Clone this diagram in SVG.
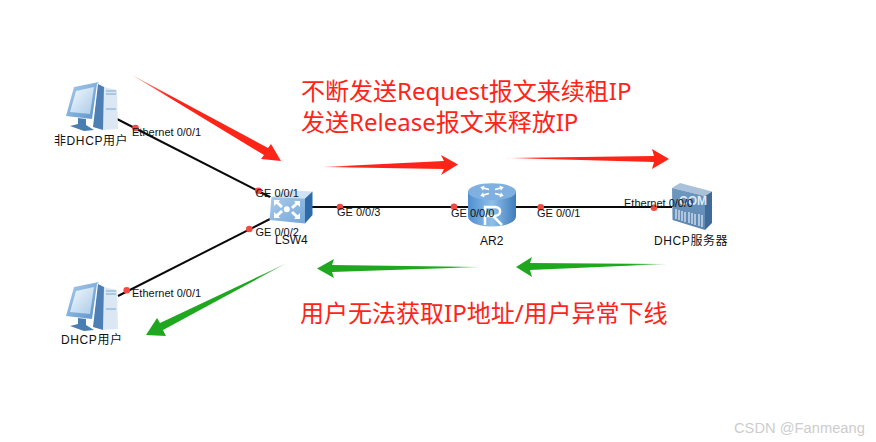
<svg xmlns="http://www.w3.org/2000/svg" xmlns:xlink="http://www.w3.org/1999/xlink" width="876" height="442" viewBox="0 0 876 442">
<style>
.lbl{font:11px "Liberation Sans","Noto Sans CJK SC",sans-serif;fill:#111}
.nm{font:12px "Liberation Sans","Noto Sans CJK SC",sans-serif;fill:#111}
.cj{letter-spacing:.6px}
.big{font:24px "Noto Sans","Noto Sans CJK SC",sans-serif;fill:#ff2418}
.link{stroke:#0a0a0a;stroke-width:2;fill:none}
.dot{fill:#f24a42}
</style>
<defs>
<linearGradient id="rd1" gradientUnits="userSpaceOnUse" x1="132" y1="75" x2="170" y2="97"><stop offset="0" stop-color="#ff2418" stop-opacity=".45"/><stop offset="1" stop-color="#ff2418"/></linearGradient>
<linearGradient id="rd2" gradientUnits="userSpaceOnUse" x1="322" y1="0" x2="350" y2="0"><stop offset="0" stop-color="#ff2418" stop-opacity=".45"/><stop offset="1" stop-color="#ff2418"/></linearGradient>
<linearGradient id="rd3" gradientUnits="userSpaceOnUse" x1="505" y1="0" x2="533" y2="0"><stop offset="0" stop-color="#ff2418" stop-opacity=".45"/><stop offset="1" stop-color="#ff2418"/></linearGradient>
<linearGradient id="gr1" gradientUnits="userSpaceOnUse" x1="667" y1="0" x2="630" y2="0"><stop offset="0" stop-color="#1fa81f" stop-opacity=".45"/><stop offset="1" stop-color="#1fa81f"/></linearGradient>
<linearGradient id="gr2" gradientUnits="userSpaceOnUse" x1="481" y1="0" x2="450" y2="0"><stop offset="0" stop-color="#1fa81f" stop-opacity=".45"/><stop offset="1" stop-color="#1fa81f"/></linearGradient>
<linearGradient id="gr3" gradientUnits="userSpaceOnUse" x1="287" y1="263" x2="255" y2="279"><stop offset="0" stop-color="#1fa81f" stop-opacity=".45"/><stop offset="1" stop-color="#1fa81f"/></linearGradient>
<linearGradient id="scr" x1="0" y1="0" x2="1" y2="1"><stop offset="0" stop-color="#f4f9fd"/><stop offset="1" stop-color="#a9cbe8"/></linearGradient>
<linearGradient id="mon" x1="0" y1="0" x2="1" y2="1"><stop offset="0" stop-color="#a9cdee"/><stop offset="1" stop-color="#5c93c9"/></linearGradient>
<linearGradient id="sw" x1="0" y1="0" x2="1" y2="1"><stop offset="0" stop-color="#a8cbec"/><stop offset="1" stop-color="#76a7d8"/></linearGradient>
<linearGradient id="cyl" x1="0" y1="0" x2="1" y2="0"><stop offset="0" stop-color="#4f8fd0"/><stop offset=".5" stop-color="#8fbfe8"/><stop offset="1" stop-color="#3f7cbc"/></linearGradient>
<linearGradient id="srv" x1="0" y1="0" x2="0" y2="1"><stop offset="0" stop-color="#6f98c0"/><stop offset="1" stop-color="#5c86b0"/></linearGradient>
<g id="pc">
<path d="M104 87 L117 90 L118 129 L103 130 Z" fill="#dbe8f4"/>
<path d="M106 91 H116 M106 94 H116 M106 109 H116" stroke="#7fa6cc" stroke-width="1.200" fill="none"/>
<path d="M98 84 L104 87 L103 130 L93 127 Z" fill="#4d7fb4"/>
<path d="M74 87 L99 82 L97 84 L92 119 L66 116 Z" fill="url(#mon)"/>
<path d="M76 91 L94 87 L90 114 L70 112 Z" fill="url(#scr)"/>
<path d="M78 118 L86 119 L86 125 L94 130 L84 131 L70 126 L78 124 Z" fill="#4a7db2"/>
</g>
<path id="chev" d="M0 0 L6 0 L4.500 1.800 L9 6 L7 8 L2.300 3.800 L0 6 Z" fill="#fff"/>
<path id="rarr" d="M0 -1 H6 V-3 L10 0 L6 3 V1 H0 Z" fill="#fff"/>
</defs>
<rect width="876" height="442" fill="#fff"/>
<g id="connectors">
<path class="link" d="M117 119 L270 197"/>
<path class="link" d="M118 296 L270 219"/>
<path class="link" d="M312 207 H468 M516 207 H672"/>
<circle class="dot" cx="135.500" cy="128" r="3.300"/>
<circle class="dot" cx="258.300" cy="190.700" r="3.300"/>
<circle class="dot" cx="249.300" cy="229" r="3.300"/>
<circle class="dot" cx="126.700" cy="290.300" r="3.300"/>
<circle class="dot" cx="340" cy="207" r="3.300"/>
<circle class="dot" cx="454" cy="206.700" r="3.300"/>
<circle class="dot" cx="540.700" cy="207.300" r="3.300"/>
<circle class="dot" cx="654" cy="207.700" r="3.300"/>
</g>
<g id="node-pc1"><use xlink:href="#pc" href="#pc"/><text class="nm cj" x="54" y="145">非DHCP用户</text></g>
<g id="node-pc2"><use xlink:href="#pc" href="#pc" y="200"/><text class="nm cj" x="61" y="344">DHCP用户</text></g>
<g id="node-lsw4">
<path d="M271.500 197 L291.500 190.500 L312.500 191.500 L305 198.500 Z" fill="#cfe2f4"/>
<path d="M305 198.500 L312.500 191.500 L312.500 215 L305 223.500 Z" fill="#2f6aa8"/>
<path d="M271.500 197 L305 198.500 V223.500 L269.500 220 Z" fill="url(#sw)"/>
<use href="#chev" x="274" y="200"/>
<use href="#chev" transform="translate(300 201) scale(-1 1)"/>
<use href="#chev" transform="translate(274 218) scale(1 -1)"/>
<use href="#chev" transform="translate(300 219) scale(-1 -1)"/>
<circle cx="286.800" cy="209.300" r="3" fill="#fff"/>
<text class="nm" x="275" y="244">LSW4</text>
</g>
<g id="node-ar2">
<path d="M468 192 V216 C468 230 516 230 516 216 V192 Z" fill="url(#cyl)"/>
<ellipse cx="492" cy="191.700" rx="24" ry="8.500" fill="#7fb0e0"/>
<use href="#rarr" transform="translate(489 189.500) rotate(195) scale(.9)"/>
<use href="#rarr" transform="translate(495 189.500) rotate(-15) scale(.9)"/>
<use href="#rarr" transform="translate(489 193.500) rotate(165) scale(.9)"/>
<use href="#rarr" transform="translate(495 193.500) rotate(15) scale(.9)"/>
<path d="M485 225 V207 H495 C502 207 502 216 494 216 H487 M493 216 L502 225" stroke="#fff" stroke-width="2.500" fill="none"/>
<text class="nm" x="480" y="244.700">AR2</text>
</g>
<g id="node-server">
<path d="M672 188 L680 183 L712 191.500 L705 196 Z" fill="#a9c2da"/>
<path d="M705 196 L712 191.500 L712 223 L705 230 Z" fill="#3f6b98"/>
<path d="M672 188 L705 196 V230 L672.500 220 Z" fill="url(#srv)"/>
<path d="M676 209 V219 M679 210 V220 M682 211 V221 M685 212 V222 M689 212 V223 M692 213 V224 M695 214 V225 M699 214 V226 M702 215 V227" stroke="#c9d9ea" stroke-width="1.500"/>
<text x="679" y="205" font-family="Liberation Sans,sans-serif" font-size="12" font-weight="bold" fill="#dfe9f3">COM</text>
<text class="nm cj" x="654" y="245">DHCP服务器</text>
</g>
<g id="port-labels">
<text class="lbl" x="132" y="136">Ethernet 0/0/1</text>
<text class="lbl" x="255.500" y="196.700">GE 0/0/1</text>
<text class="lbl" x="255.500" y="235.700">GE 0/0/2</text>
<text class="lbl" x="132" y="296.700">Ethernet 0/0/1</text>
<text class="lbl" x="337" y="216">GE 0/0/3</text>
<text class="lbl" x="451" y="216.700">GE 0/0/0</text>
<text class="lbl" x="537" y="216.700">GE 0/0/1</text>
<text class="lbl" x="624" y="207">Ethernet 0/0/0</text>
</g>
<g id="arrows">
<path fill="url(#rd1)" d="M132 75 L268 148 L271 144 L281 161 L261 159 L264 155 Z"/>
<path fill="url(#rd2)" d="M322 167 L444 161 L441 155 L458 164.500 L441 175 L444 169 Z"/>
<path fill="url(#rd3)" d="M505 158 L654 156 L652 149 L669 159 L652 169 L654 162 Z"/>
<path fill="url(#gr1)" d="M667 264 L530 263 L532 257 L516 267 L532 277 L530 270 Z"/>
<path fill="url(#gr2)" d="M481 267 L332 265 L334 259 L317 268.500 L334 278 L332 272 Z"/>
<path fill="url(#gr3)" d="M287 263 L160 323 L157 318 L146 335 L166 336 L163 330 Z"/>
</g>
<g id="annotations">
<text class="big" x="301" y="100">不断发送Request报文来续租IP</text>
<text class="big" x="301" y="131">发送Release报文来释放IP</text>
<text class="big" x="300" y="322">用户无法获取IP地址/用户异常下线</text>
</g>
<text x="734" y="433" font-family="Liberation Sans,sans-serif" font-size="14.700" fill="#cdcdcd">CSDN @Fanmeang</text>
</svg>
